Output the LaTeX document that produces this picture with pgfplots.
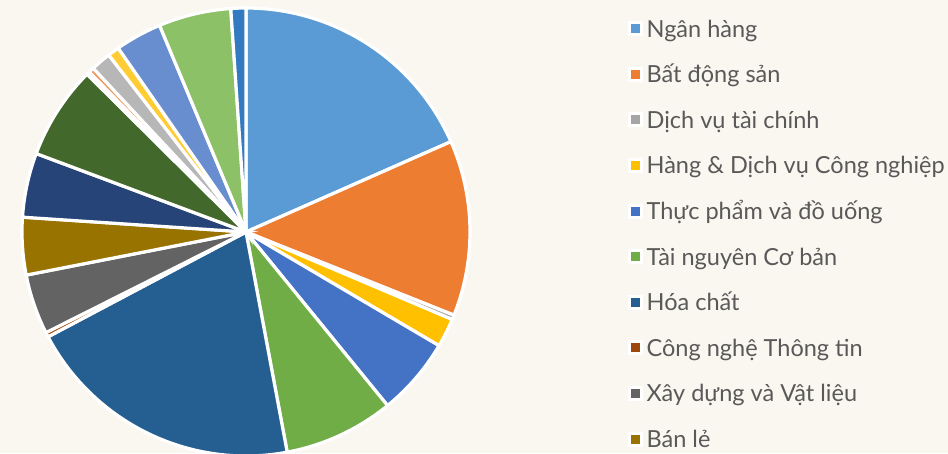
\documentclass[border=0pt]{standalone}
\usepackage{fontspec}
\setmainfont{Lato}
\usepackage{pgfplots}
\pgfplotsset{compat=1.18}
\definecolor{bg}{HTML}{FAF7F0}
\definecolor{txt}{HTML}{595959}
\definecolor{c1}{HTML}{5B9BD5}
\definecolor{c2}{HTML}{ED7D31}
\definecolor{c3}{HTML}{A5A5A5}
\definecolor{c4}{HTML}{FFC000}
\definecolor{c5}{HTML}{4472C4}
\definecolor{c6}{HTML}{70AD47}
\definecolor{c7}{HTML}{255E91}
\definecolor{c8}{HTML}{9E480E}
\definecolor{c9}{HTML}{636363}
\definecolor{c10}{HTML}{997300}
\definecolor{c11}{HTML}{264478}
\definecolor{c12}{HTML}{43682B}
\definecolor{c13}{HTML}{7CAFDD}
\definecolor{c14}{HTML}{F1975A}
\definecolor{c15}{HTML}{B7B7B7}
\definecolor{c16}{HTML}{FFCD33}
\definecolor{c17}{HTML}{698ED0}
\definecolor{c18}{HTML}{8CC168}
\definecolor{c19}{HTML}{337AC0}
\begin{document}
\begin{tikzpicture}[x=1pt,y=1pt]
\path[use as bounding box, clip] (0,0) rectangle (948,453);
\fill[bg] (0,0) rectangle (948,453);
\begin{axis}[
  at={(246pt,221pt)}, anchor=origin,
  x=224pt, y=224pt,
  xmin=-1.1, xmax=1.1, ymin=-1.1, ymax=1.1,
  hide axis, clip=false,
  slice/.style={draw=white, line width=3.2pt},
  legend image code/.code={\draw[#1, draw=white, line width=3pt] (0pt,-6pt) rectangle (12pt,6pt);},
  legend style={at={(axis description cs:1.2741,0.9363)}, anchor=north west,
    draw=none, fill=none, inner sep=0pt, row sep=22.6pt, column sep=4pt,
    font=\fontsize{23.5}{28}\selectfont, text=txt,
    nodes={inner sep=0pt, text height=20pt, text depth=3pt}},
  legend cell align=left,
]
% slice boundaries in degrees, clockwise from 12 o'clock (cumulative shares of 360)
\addplot[slice, fill=c1, domain=0:66.2, samples=35] ({sin(x)},{cos(x)}) -- (axis cs:0,0) -- cycle;
\addlegendentry{Ngân hàng}
\addplot[slice, fill=c2, domain=66.2:111.8, samples=25] ({sin(x)},{cos(x)}) -- (axis cs:0,0) -- cycle;
\addlegendentry{Bất động sản}
\addplot[slice, fill=c3, domain=111.8:113.0, samples=3] ({sin(x)},{cos(x)}) -- (axis cs:0,0) -- cycle;
\addlegendentry{Dịch vụ tài chính}
\addplot[slice, fill=c4, domain=113.0:120.5, samples=6] ({sin(x)},{cos(x)}) -- (axis cs:0,0) -- cycle;
\addlegendentry{Hàng \& Dịch vụ Công nghiệp}
\addplot[slice, fill=c5, domain=120.5:140.8, samples=12] ({sin(x)},{cos(x)}) -- (axis cs:0,0) -- cycle;
\addlegendentry{Thực phẩm và đồ uống}
\addplot[slice, fill=c6, domain=140.8:169.4, samples=16] ({sin(x)},{cos(x)}) -- (axis cs:0,0) -- cycle;
\addlegendentry{Tài nguyên Cơ bản}
\addplot[slice, fill=c7, domain=169.4:242.1, samples=38] ({sin(x)},{cos(x)}) -- (axis cs:0,0) -- cycle;
\addlegendentry{Hóa chất}
\addplot[slice, fill=c8, domain=242.1:243.3, samples=3] ({sin(x)},{cos(x)}) -- (axis cs:0,0) -- cycle;
\addlegendentry{Công nghệ Thông tin}
\addplot[slice, fill=c9, domain=243.3:258.9, samples=9] ({sin(x)},{cos(x)}) -- (axis cs:0,0) -- cycle;
\addlegendentry{Xây dựng và Vật liệu}
\addplot[slice, fill=c10, domain=258.9:273.8, samples=9] ({sin(x)},{cos(x)}) -- (axis cs:0,0) -- cycle;
\addlegendentry{Bán lẻ}
\addplot[slice, fill=c11, domain=273.8:290.5, samples=10, forget plot] ({sin(x)},{cos(x)}) -- (axis cs:0,0) -- cycle;
\addplot[slice, fill=c12, domain=290.5:314.8, samples=14, forget plot] ({sin(x)},{cos(x)}) -- (axis cs:0,0) -- cycle;
\addplot[slice, fill=c13, domain=314.8:315.6, samples=3, forget plot] ({sin(x)},{cos(x)}) -- (axis cs:0,0) -- cycle;
\addplot[slice, fill=c14, domain=315.6:317.0, samples=3, forget plot] ({sin(x)},{cos(x)}) -- (axis cs:0,0) -- cycle;
\addplot[slice, fill=c15, domain=317.0:322.2, samples=4, forget plot] ({sin(x)},{cos(x)}) -- (axis cs:0,0) -- cycle;
\addplot[slice, fill=c16, domain=322.2:325.2, samples=3, forget plot] ({sin(x)},{cos(x)}) -- (axis cs:0,0) -- cycle;
\addplot[slice, fill=c17, domain=325.2:337.3, samples=8, forget plot] ({sin(x)},{cos(x)}) -- (axis cs:0,0) -- cycle;
\addplot[slice, fill=c18, domain=337.3:356.1, samples=11, forget plot] ({sin(x)},{cos(x)}) -- (axis cs:0,0) -- cycle;
\addplot[slice, fill=c19, domain=356.1:360, samples=4, forget plot] ({sin(x)},{cos(x)}) -- (axis cs:0,0) -- cycle;
\end{axis}
\end{tikzpicture}
\end{document}
